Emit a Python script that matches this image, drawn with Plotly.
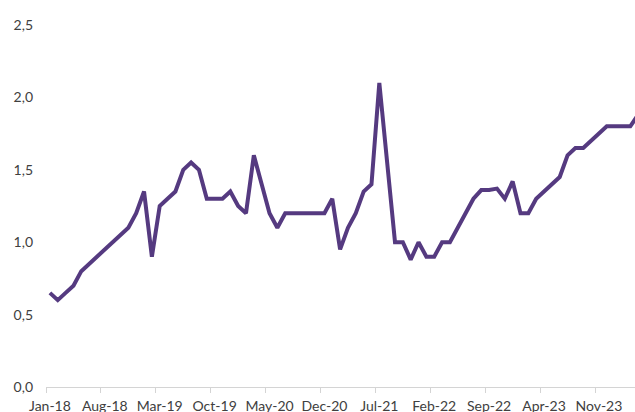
import plotly.graph_objects as go

# monthly observations, Jan-18 .. Apr-24
months = [
    "Jan-18", "Feb-18", "Mar-18", "Apr-18", "May-18", "Jun-18", "Jul-18", "Aug-18", "Sep-18", "Oct-18", "Nov-18", "Dec-18",
    "Jan-19", "Feb-19", "Mar-19", "Apr-19", "May-19", "Jun-19", "Jul-19", "Aug-19", "Sep-19", "Oct-19", "Nov-19", "Dec-19",
    "Jan-20", "Feb-20", "Mar-20", "Apr-20", "May-20", "Jun-20", "Jul-20", "Aug-20", "Sep-20", "Oct-20", "Nov-20", "Dec-20",
    "Jan-21", "Feb-21", "Mar-21", "Apr-21", "May-21", "Jun-21", "Jul-21", "Aug-21", "Sep-21", "Oct-21", "Nov-21", "Dec-21",
    "Jan-22", "Feb-22", "Mar-22", "Apr-22", "May-22", "Jun-22", "Jul-22", "Aug-22", "Sep-22", "Oct-22", "Nov-22", "Dec-22",
    "Jan-23", "Feb-23", "Mar-23", "Apr-23", "May-23", "Jun-23", "Jul-23", "Aug-23", "Sep-23", "Oct-23", "Nov-23", "Dec-23",
    "Jan-24", "Feb-24", "Mar-24", "Apr-24",
]
values = [
    0.65, 0.60, 0.65, 0.70, 0.80, 0.85, 0.90, 0.95, 1.00, 1.05, 1.10, 1.20,
    1.35, 0.90, 1.25, 1.30, 1.35, 1.50, 1.55, 1.50, 1.30, 1.30, 1.30, 1.35,
    1.25, 1.20, 1.60, 1.40, 1.20, 1.10, 1.20, 1.20, 1.20, 1.20, 1.20, 1.20,
    1.30, 0.95, 1.10, 1.20, 1.35, 1.40, 2.10, 1.55, 1.00, 1.00, 0.88, 1.00,
    0.90, 0.90, 1.00, 1.00, 1.10, 1.20, 1.30, 1.36, 1.36, 1.37, 1.30, 1.42,
    1.20, 1.20, 1.30, 1.35, 1.40, 1.45, 1.60, 1.65, 1.65, 1.70, 1.75, 1.80,
    1.80, 1.80, 1.80, 1.88,
]
label_step = 7
y_ticks = [0, 0.5, 1.0, 1.5, 2.0, 2.5]

idx = list(range(len(months)))

fig = go.Figure()
fig.add_trace(go.Scatter(
    x=idx,
    y=values,
    mode="lines",
    line=dict(color="#553a80", width=4),
    hoverinfo="skip",
))

fig.update_layout(
    width=635,
    height=412,
    margin=dict(l=46, r=0, t=25, b=25),
    paper_bgcolor="white",
    plot_bgcolor="white",
    showlegend=False,
    separators=",.",
    font=dict(family="Lato, Noto Sans, sans-serif", size=14, color="#404040"),
)

fig.update_xaxes(
    range=[-0.5, 74.6],
    automargin=False,
    tickmode="array",
    tickvals=idx[::label_step],
    ticktext=months[::label_step],
    ticks="",
    ticklabelstandoff=6,
    showgrid=False,
    zeroline=False,
    showline=True,
    linecolor="#d4d4d4",
    linewidth=1,
    minor=dict(tick0=-0.5, dtick=label_step, ticks="outside", ticklen=5,
               tickcolor="#d4d4d4", tickwidth=1, showgrid=False),
)

fig.update_yaxes(
    range=[0, 2.5],
    automargin=False,
    tickvals=y_ticks,
    tickformat=".1f",
    showgrid=False,
    zeroline=False,
    showline=False,
    ticks="",
    ticklabelstandoff=12,
)

# drop the default body margin so the figure fills the window exactly
fig.write_html(
    "out.html",
    config={"displayModeBar": False},
    post_script="document.body.style.margin='0';document.body.style.overflow='hidden';",
)
